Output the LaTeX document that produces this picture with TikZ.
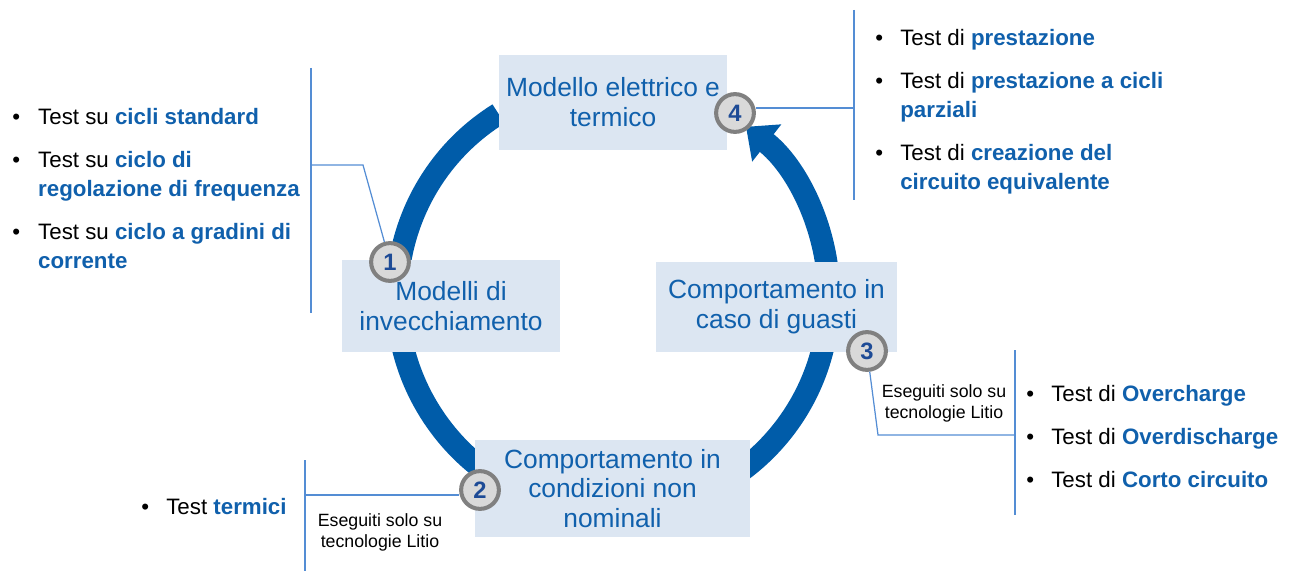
\documentclass[tikz,border=0pt]{standalone}
\usepackage{fontspec}
\setmainfont{Liberation Sans}
\usetikzlibrary{arrows.meta}
\definecolor{ringblue}{RGB}{0,92,169}
\definecolor{txtblue}{RGB}{16,96,172}
\definecolor{numblue}{RGB}{30,75,150}
\definecolor{boxfill}{RGB}{220,230,242}
\definecolor{leadblue}{RGB}{84,141,212}
\definecolor{ringgray}{RGB}{128,128,128}
\definecolor{numfill}{RGB}{217,217,217}
\newcommand{\hl}[1]{{\bfseries\color{txtblue}#1}}
\begin{document}
\begin{tikzpicture}[x=0.02cm,y=-0.02cm,
    stage/.style={fill=boxfill,text=txtblue,align=center,inner sep=0pt,font=\fontsize{15}{17}\selectfont},
    num/.style={circle,draw=ringgray,fill=numfill,line width=2.3pt,minimum size=21.5pt,inner sep=0pt,text=numblue,font=\fontsize{13.5}{14}\selectfont\bfseries},
    lead/.style={leadblue,line width=0.7pt},
    list/.style={anchor=north west,inner sep=0pt,font=\fontsize{12.7}{16.44}\selectfont},
    note/.style={align=center,inner sep=0pt,font=\fontsize{10.1}{11.9}\selectfont}]
    \useasboundingbox (0,0) rectangle (1290,571);

    % the cycle
    \draw[ringblue,line width=12.8pt,-{Triangle[width=26pt,length=15pt]}] ([shift={(613,297)}]-122:216) arc[start angle=-122,end angle=-412,radius=216];

    \node[stage,minimum width=4.56cm,minimum height=1.9cm] (thermal) at (613,102.5) {Modello elettrico e\\termico};
    \node[stage,minimum width=4.36cm,minimum height=1.84cm] (aging) at (451,306) {Modelli di\\invecchiamento};
    \node[stage,minimum width=4.82cm,minimum height=1.8cm] (fault) at (776.5,307) {Comportamento in\\caso di guasti};
    \node[stage,minimum width=5.5cm,minimum height=1.94cm] (offnom) at (612.5,488.5) {Comportamento in\\condizioni non\\nominali};

    \node[num] (c1) at (390,262) {1};
    \node[num] (c2) at (480,490) {2};
    \node[num] (c3) at (867,351) {3};
    \node[num] (c4) at (735,113) {4};

    % test lists
    \node[list] (listA) at (12,104) {\begin{tabular}{@{}p{14.7pt}@{}l@{}}
        \textbullet & Test su \hl{cicli standard}\\[8pt]
        \textbullet & Test su \hl{ciclo di}\\
        & \hl{regolazione di frequenza}\\[8pt]
        \textbullet & Test su \hl{ciclo a gradini di}\\
        & \hl{corrente}
    \end{tabular}};
    \node[list] (listD) at (875,25) {\begin{tabular}{@{}p{14.2pt}@{}l@{}}
        \textbullet & Test di \hl{prestazione}\\[8pt]
        \textbullet & Test di \hl{prestazione a cicli}\\
        & \hl{parziali}\\[8pt]
        \textbullet & Test di \hl{creazione del}\\
        & \hl{circuito equivalente}
    \end{tabular}};
    \node[list] (listC) at (1026,381) {\begin{tabular}{@{}p{14.2pt}@{}l@{}}
        \textbullet & Test di \hl{Overcharge}\\[8pt]
        \textbullet & Test di \hl{Overdischarge}\\[8pt]
        \textbullet & Test di \hl{Corto circuito}
    \end{tabular}};
    \node[list] (listB) at (141,494) {\begin{tabular}{@{}p{14.2pt}@{}l@{}}
        \textbullet & Test \hl{termici}
    \end{tabular}};

    \node[note] (noteB) at (380,532) {Eseguiti solo su\\tecnologie Litio};
    \node[note] (noteC) at (944,403) {Eseguiti solo su\\tecnologie Litio};

    % leader lines
    \coordinate (a1) at (311,68);
    \coordinate (a2) at (311,313);
    \coordinate (a3) at (311,165);
    \coordinate (k1) at (363,165);
    \draw[lead] (a1) -- (a2);
    \draw[lead] (a3) -- (k1) -- (c1);

    \coordinate (d1) at (854,10);
    \coordinate (d2) at (854,200);
    \coordinate (k4) at (854,108);
    \draw[lead] (d1) -- (d2);
    \draw[lead] (k4) -- (c4.east |- k4);

    \coordinate (e1) at (1015,350);
    \coordinate (e2) at (1015,515);
    \coordinate (k3) at (878,435);
    \coordinate (e3) at (1015,435);
    \draw[lead] (e1) -- (e2);
    \draw[lead] (c3) -- (k3) -- (e3);

    \coordinate (b1) at (305,460);
    \coordinate (b2) at (305,571);
    \coordinate (k2) at (305,495);
    \draw[lead] (b1) -- (b2);
    \draw[lead] (k2) -- (c2.west |- k2);
\end{tikzpicture}
\end{document}
